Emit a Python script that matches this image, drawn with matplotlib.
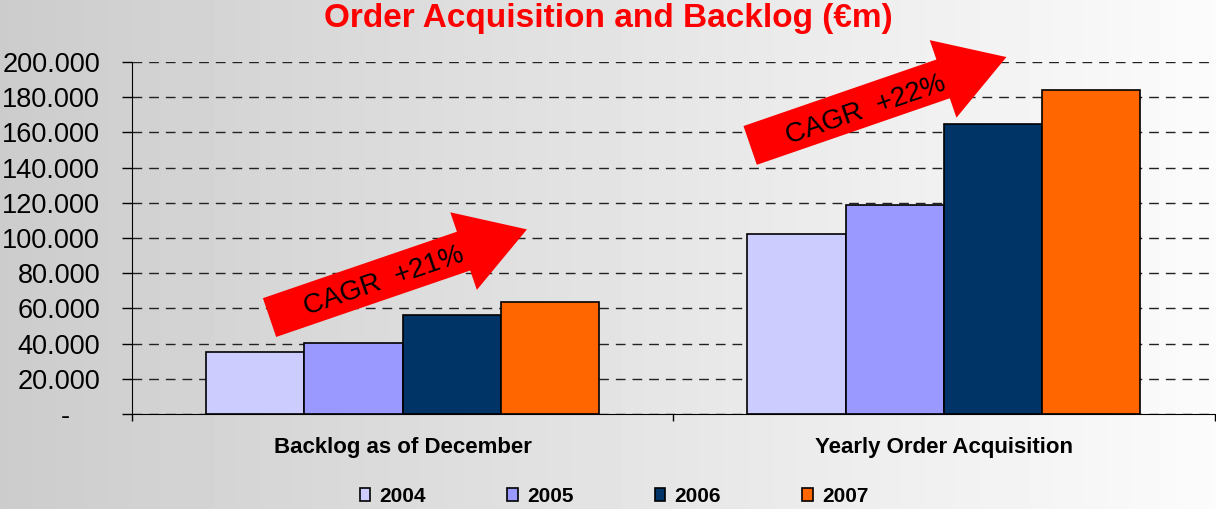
#!/usr/bin/env python3
""" order acquisition and backlog, grouped bars with CAGR arrows """
import numpy as np
import matplotlib
matplotlib.use("Agg")
import matplotlib.pyplot as plt
from matplotlib.patches import FancyArrow
from matplotlib.transforms import IdentityTransform

plt.rcParams['font.family'] = ['Liberation Sans', 'DejaVu Sans']

categories = ["Backlog as of December", "Yearly Order Acquisition"]
years = ["2004", "2005", "2006", "2007"]
backlog = [35500, 40500, 56000, 63500]
orders = [102500, 119000, 165000, 184000]
colors = ["#CCCCFF", "#9999FF", "#003366", "#FF6600"]
yticks = [0, 20000, 40000, 60000, 80000, 100000, 120000, 140000, 160000, 180000, 200000]
cagr_labels = ["CAGR  +21%", "CAGR  +22%"]

fig = plt.figure(figsize=(12.16, 5.09), dpi=100)

# gradient background
bg = fig.add_axes([0, 0, 1, 1], zorder=-10)
grad = np.linspace(0.80, 0.985, 256).reshape(1, -1)
bg.imshow(grad, aspect='auto', cmap='gray', vmin=0, vmax=1, extent=[0, 1, 0, 1])
bg.set_axis_off()

ax = fig.add_axes([0.1086, 0.1866, 0.8902, 0.6916])
ax.patch.set_visible(False)

x = np.arange(len(categories))
w = 0.1816
for i, yr in enumerate(years):
    vals = [backlog[i], orders[i]]
    ax.bar(x + (i - 1.5) * w, vals, width=w, color=colors[i],
           edgecolor='black', linewidth=1.2, label=yr, zorder=3)

ax.set_xlim(-0.5, 1.5)
ax.set_ylim(0, 200000)
ax.set_yticks(yticks)
ax.set_yticklabels(["-    "] + [f"{v:,}".replace(",", ".") for v in yticks[1:]],
                   fontsize=19.5)
ax.tick_params(axis='y', length=7, width=1, pad=16)
ax.set_xticks([-0.5, 0.5, 1.5])
ax.set_xticklabels([])
ax.tick_params(axis='x', length=5, width=1)
ax.grid(axis='y', color='#222222', linewidth=1, linestyle=(0, (7, 5)), zorder=1)
for s in ['top', 'right']:
    ax.spines[s].set_visible(False)
ax.spines['left'].set_zorder(4)
ax.spines['bottom'].set_zorder(4)

for xi, cat in zip(x, categories):
    ax.text(xi, -0.095, cat, transform=ax.get_xaxis_transform(), ha='center', va='center',
            fontsize=16, fontweight='bold')

fig.text(0.5, 0.9646, "Order Acquisition and Backlog (€m)", ha='center', va='center',
         color='#FF0000', fontsize=24, fontweight='bold')

leg = ax.legend(loc='center', bbox_to_anchor=(614 / 1216, 1 - 496 / 509),
                bbox_transform=fig.transFigure, ncol=4, frameon=False,
                prop={'weight': 'bold', 'size': 15}, handlelength=0.5,
                handleheight=0.6, handletextpad=0.45, columnspacing=3.9)

# CAGR arrows (tail, tip in data units) and labels
arrow_tails = [(-0.246, 54800), (0.642, 152600)]
arrow_tips = [(0.2296, 104900), (1.1155, 202800)]
label_pos = [(-0.034, 75200), (0.855, 172700)]

fig.canvas.draw()
for tail, tip, lab, txt in zip(arrow_tails, arrow_tips, label_pos, cagr_labels):
    p0 = ax.transData.transform(tail)
    p1 = ax.transData.transform(tip)
    d = p1 - p0
    arr = FancyArrow(p0[0], p0[1], d[0], d[1], width=41, head_width=82,
                     head_length=67, length_includes_head=True,
                     color='#FF0000', linewidth=0, transform=IdentityTransform(),
                     zorder=5, clip_on=False)
    ax.add_artist(arr)
    ang = np.degrees(np.arctan2(d[1], d[0]))
    ax.text(lab[0], lab[1], txt, rotation=ang, rotation_mode='anchor',
            ha='center', va='center', fontsize=20, zorder=6, clip_on=False)

fig.savefig("out.png", dpi=100)
